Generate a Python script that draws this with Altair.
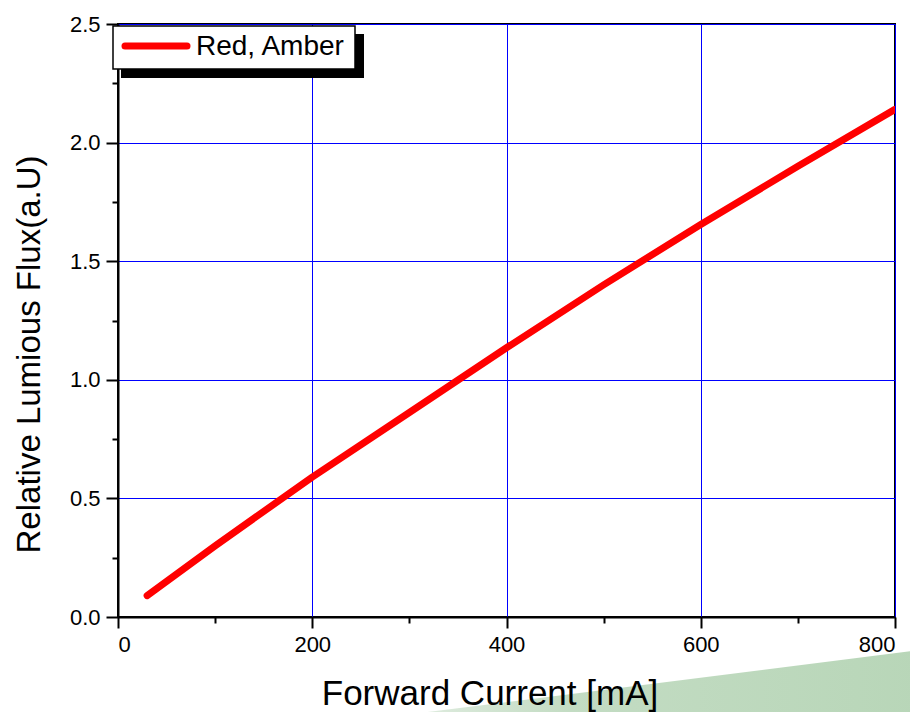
import altair as alt
import pandas as pd
import urllib.parse

current_ma = [30, 100, 200, 300, 400, 500, 600, 700, 800]
relative_flux = [0.09, 0.30, 0.59, 0.862, 1.135, 1.40, 1.655, 1.90, 2.14]
series_name = "Red, Amber"
x_title = "Forward Current [mA]"
y_title = "Relative Lumious Flux(a.U)"

x_ticks = [0, 100, 200, 300, 400, 500, 600, 700, 800]
y_ticks = [0.0, 0.25, 0.5, 0.75, 1.0, 1.25, 1.5, 1.75, 2.0, 2.25, 2.5]

df = pd.DataFrame({"x": current_ma, "y": relative_flux, "s": [series_name] * len(current_ma)})
one = pd.DataFrame({"s": [series_name], "t": [x_title]})

FONT = "Liberation Sans"

x_axis = alt.Axis(
    values=x_ticks,
    labelExpr="datum.value % 200 === 0 ? datum.label : ''",
    tickSize={"condition": {"test": "datum.value % 200 !== 0", "value": 6}, "value": 11},
    gridOpacity={"condition": {"test": "datum.value % 200 !== 0", "value": 0}, "value": 1},
    gridColor="#0000ff", gridWidth=1,
    domainColor="black", domainWidth=2, tickColor="black", tickWidth=2,
    labelFont=FONT, labelFontSize=22, labelColor="black", labelPadding=6,
    title=None,
)
y_axis = alt.Axis(
    values=y_ticks,
    labelExpr="(datum.value * 4) % 2 === 0 ? format(datum.value, '.1f') : ''",
    tickSize={"condition": {"test": "(datum.value * 4) % 2 !== 0", "value": 6}, "value": 12},
    gridOpacity={"condition": {"test": "(datum.value * 4) % 2 !== 0", "value": 0}, "value": 1},
    gridColor="#0000ff", gridWidth=1,
    domainColor="black", domainWidth=2, tickColor="black", tickWidth=2,
    labelFont=FONT, labelFontSize=22, labelColor="black", labelPadding=6,
    title=y_title, titleFont=FONT, titleFontSize=33,
    titleFontWeight="normal", titleColor="black",
    titleX=-89, titleY=330, titleAngle=-90, titleBaseline="middle", titleAnchor="middle",
)

# decorative green wedge at the bottom right of the page
svg = (
    "<svg xmlns='http://www.w3.org/2000/svg' width='540' height='70' viewBox='0 0 540 70'>"
    "<defs><linearGradient id='g' x1='0' x2='1' y1='0' y2='0'>"
    "<stop offset='0' stop-color='#e6f0e6'/><stop offset='0.35' stop-color='#c3dcc3'/>"
    "<stop offset='1' stop-color='#b8d6b8'/></linearGradient></defs>"
    "<polygon points='0,68 540,0 540,70 0,70' fill='url(#g)'/></svg>"
)
wedge_url = "data:image/svg+xml;charset=utf-8," + urllib.parse.quote(svg)

wedge = alt.Chart(one).mark_image(
    url=wedge_url, align="left", baseline="top", aspect=False, clip=False, width=540, height=70
).encode(x=alt.value(262), y=alt.value(626))

xtitle = alt.Chart(one).mark_text(
    font=FONT, fontSize=35, color="black", align="center", baseline="alphabetic"
).encode(x=alt.value(372), y=alt.value(681), text="t:N")

# legend box (drawn as marks to get the drop shadow)
shadow = alt.Chart(one).mark_rect(color="black").encode(
    x=alt.value(3), x2=alt.value(246), y=alt.value(10), y2=alt.value(54)
)
box = alt.Chart(one).mark_rect(fill="white", stroke="black", strokeWidth=1.5).encode(
    x=alt.value(-5), x2=alt.value(237), y=alt.value(2), y2=alt.value(45)
)
sample = alt.Chart(one).mark_rule(color="#ff0000", strokeWidth=7, strokeCap="round").encode(
    x=alt.value(7), x2=alt.value(69), y=alt.value(22)
)
label = alt.Chart(one).mark_text(
    font=FONT, fontSize=28, color="black", align="left", baseline="middle"
).encode(x=alt.value(78), y=alt.value(23), text="s:N")

line = alt.Chart(df).mark_line(strokeWidth=7, strokeCap="round", strokeJoin="round", clip=True).encode(
    x=alt.X("x:Q", scale=alt.Scale(domain=[0, 800], nice=False), axis=x_axis),
    y=alt.Y("y:Q", scale=alt.Scale(domain=[0, 2.5], nice=False), axis=y_axis),
    color=alt.Color("s:N", scale=alt.Scale(domain=[series_name], range=["#ff0000"]), legend=None),
)

chart = (
    alt.layer(wedge, xtitle, line, shadow, box, sample, label)
    .properties(width=777, height=593, padding={"left": 110, "top": 16, "right": 15, "bottom": 95},
                autosize=alt.AutoSizeParams(type="none"), background="white")
    .configure_view(stroke="black", strokeWidth=2)
)

chart.save("out.html", embed_options={"renderer": "svg", "actions": False})
